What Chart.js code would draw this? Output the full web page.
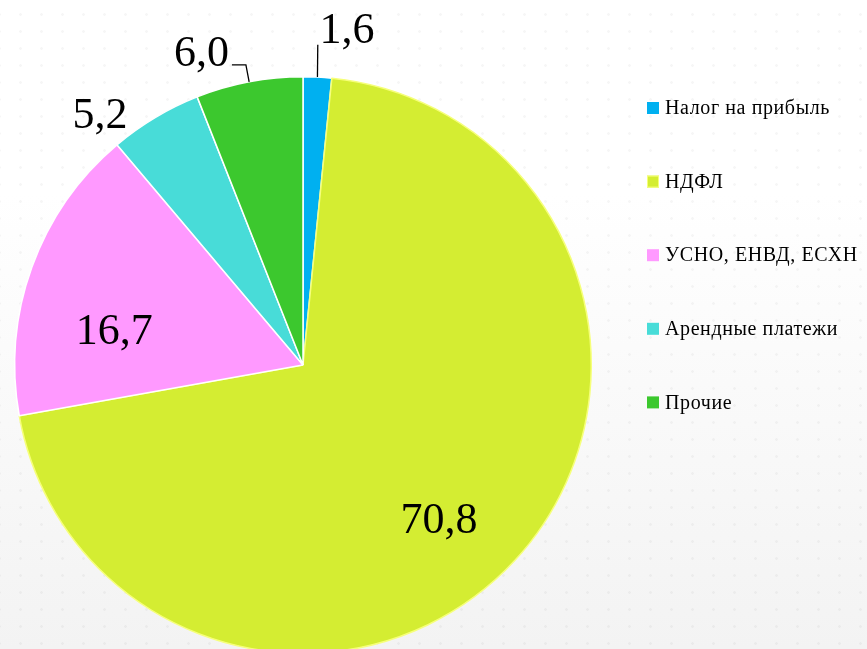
<!DOCTYPE html>
<html>
<head>
<meta charset="utf-8">
<script src="https://cdn.jsdelivr.net/npm/chart.js@4.4.1/dist/chart.umd.min.js"></script>
<style>
  html, body {
    margin: 0;
    padding: 0;
    width: 867px;
    height: 649px;
    overflow: hidden;
  }
  body {
    background-color: #ffffff;
    background-image:
      radial-gradient(circle, rgba(0,0,0,0.035) 1px, transparent 1.6px),
      linear-gradient(to bottom, #ffffff 0%, #ffffff 30%, #f3f3f3 100%);
    background-size: 21px 17px, 100% 100%;
    background-position: 10px 6px, 0 0;
  }
  canvas { display: block; }
</style>
</head>
<body>
<canvas id="taxChart" width="867" height="720"></canvas>
<script>
// данные
const categories = ["Налог на прибыль", "НДФЛ", "УСНО, ЕНВД, ЕСХН", "Арендные платежи", "Прочие"];
const shares = [1.6, 70.8, 16.7, 5.2, 6.0];
const sliceColors = ["#00b0f0", "#d4ed32", "#ff99ff", "#48dcd8", "#3cc82e"];
const sliceBorders = ["#ffffff", "#f6ff7a", "#ffffff", "#ffffff", "#ffffff"];

// label placement: radial factor of the radius, angle shift in degrees from mid-slice
const labelPlace = [
  { f: 1.128, shift: 4.9 },
  { f: 0.75, shift: 8.2 },
  { f: 0.659, shift: -13.4 },
  { f: 1.083, shift: -9.7 },
  { f: 1.097, shift: -7.95 }
];

const fmt = v => v.toFixed(1).replace(".", ",");

const valueLabels = {
  id: "valueLabels",
  afterDatasetsDraw(chart) {
    const ctx = chart.ctx;
    const arcs = chart.getDatasetMeta(0).data;
    ctx.save();
    ctx.fillStyle = "#000";
    ctx.font = "44px 'Liberation Serif', serif";
    ctx.textAlign = "center";
    ctx.textBaseline = "alphabetic";
    arcs.forEach((arc, i) => {
      const p = arc.getProps(["x", "y", "startAngle", "endAngle", "outerRadius"], true);
      const mid = (p.startAngle + p.endAngle) / 2;
      const a = mid + labelPlace[i].shift * Math.PI / 180;
      const r = p.outerRadius * labelPlace[i].f;
      ctx.fillText(fmt(shares[i]), p.x + Math.cos(a) * r, p.y + Math.sin(a) * r);
    });

    // leader lines for the small slices
    ctx.strokeStyle = "#000";
    ctx.lineWidth = 1.3;
    let p = arcs[0].getProps(["x", "y", "startAngle", "endAngle", "outerRadius"], true);
    let mid = (p.startAngle + p.endAngle) / 2;
    ctx.beginPath();
    ctx.moveTo(p.x + Math.cos(mid) * p.outerRadius, p.y + Math.sin(mid) * p.outerRadius);
    let a2 = mid - 0.004;
    ctx.lineTo(p.x + Math.cos(a2) * p.outerRadius * 1.112, p.y + Math.sin(a2) * p.outerRadius * 1.112);
    ctx.stroke();

    p = arcs[4].getProps(["x", "y", "startAngle", "endAngle", "outerRadius"], true);
    mid = (p.startAngle + p.endAngle) / 2;
    const ex = p.x + Math.cos(mid) * p.outerRadius * 1.06;
    const ey = p.y + Math.sin(mid) * p.outerRadius * 1.06;
    ctx.beginPath();
    ctx.moveTo(p.x + Math.cos(mid) * p.outerRadius, p.y + Math.sin(mid) * p.outerRadius);
    ctx.lineTo(ex, ey);
    ctx.lineTo(ex - 14, ey);
    ctx.stroke();
    ctx.restore();
  }
};

const sideLegend = {
  id: "sideLegend",
  afterDraw(chart) {
    const ctx = chart.ctx;
    ctx.save();
    ctx.font = "20px 'Liberation Serif', serif";
    ctx.letterSpacing = "0.6px";
    ctx.textBaseline = "middle";
    ctx.textAlign = "left";
    categories.forEach((name, i) => {
      const y = 108 + i * 73.6;
      ctx.fillStyle = sliceColors[i];
      ctx.fillRect(647, y - 6, 12, 12);
      if (i === 1) {
        ctx.strokeStyle = "#f6ff7a";
        ctx.lineWidth = 1;
        ctx.strokeRect(647.5, y - 5.5, 11, 11);
      }
      ctx.fillStyle = "#000";
      ctx.fillText(name, 665, y + 1);
    });
    ctx.restore();
  }
};

new Chart(document.getElementById("taxChart").getContext("2d"), {
  type: "pie",
  data: {
    labels: categories,
    datasets: [{
      data: shares,
      backgroundColor: sliceColors,
      borderColor: sliceBorders,
      borderWidth: 1.5
    }]
  },
  options: {
    responsive: false,
    animation: false,
    layout: { padding: { left: 14, top: 76, right: 275, bottom: 66 } },
    plugins: {
      legend: { display: false },
      tooltip: { enabled: false }
    }
  },
  plugins: [valueLabels, sideLegend]
});
</script>
</body>
</html>
